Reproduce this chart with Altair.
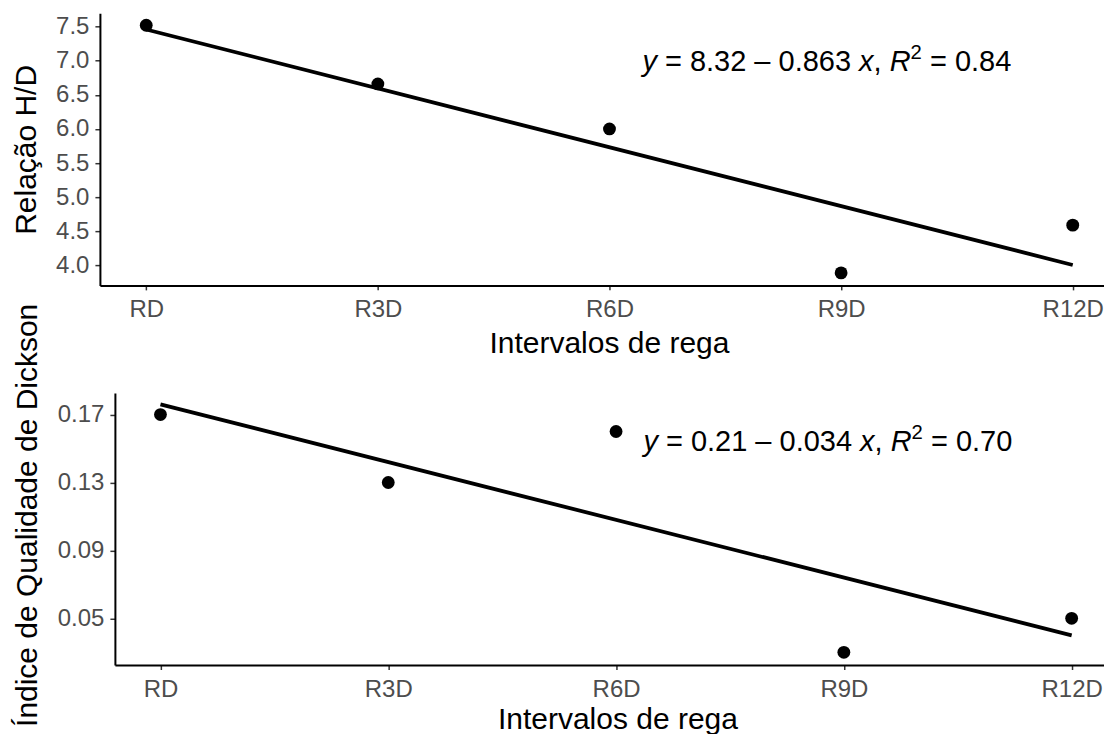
import altair as alt
import pandas as pd

# ---- data ----
categories = ["RD", "R3D", "R6D", "R9D", "R12D"]
hd_values = [7.52, 6.66, 6.00, 3.89, 4.59]
iqd_values = [0.17, 0.13, 0.16, 0.03, 0.05]
hd_ticks = [4.0, 4.5, 5.0, 5.5, 6.0, 6.5, 7.0, 7.5]
iqd_ticks = [0.05, 0.09, 0.13, 0.17]
hd_eq = [("y", "it"), (" = 8.32 – 0.863 ", "n"), ("x", "it"), (", ", "n"),
         ("R", "it"), ("2", "sup"), (" = 0.84", "n")]
iqd_eq = [("y", "it"), (" = 0.21 – 0.034 ", "n"), ("x", "it"), (", ", "n"),
          ("R", "it"), ("2", "sup"), (" = 0.70", "n")]

FONT = "Liberation Sans"
idx = list(range(1, len(categories) + 1))
df_hd = pd.DataFrame({"idx": idx, "cat": categories, "value": hd_values})
df_iqd = pd.DataFrame({"idx": idx, "cat": categories, "value": iqd_values})
label_expr = "[" + ",".join(f"'{c}'" for c in categories) + "][datum.value - 1]"

# Arial / Liberation Sans advance widths (per 1000 em)
W = {" ": 278, "=": 584, ".": 278, "–": 556, ",": 278, "x": 500, "y": 500, "R": 722}
for d in "0123456789":
    W[d] = 556


def tw(s, size):
    return sum(W.get(c, 556) for c in s) * size / 1000.0


def equation(pieces, x0, y0, size):
    layers = []
    off = 0.0
    for txt, style in pieces:
        lead = len(txt) - len(txt.lstrip(" "))
        trail = len(txt) - len(txt.rstrip(" "))
        core = txt.strip(" ")
        off += lead * W[" "] * size / 1000.0
        fs = size * 0.7 if style == "sup" else size
        dy = -size * 0.42 if style == "sup" else 0
        layers.append(
            alt.Chart(alt.Data(values=[{}])).mark_text(
                text=core, align="left", baseline="alphabetic", font=FONT,
                fontSize=fs, dy=dy, color="black",
                fontStyle="italic" if style == "it" else "normal",
            ).encode(x=alt.value(x0 + off), y=alt.value(y0))
        )
        off += tw(core, fs) + trail * W[" "] * size / 1000.0
    return layers


def panel(df, ydomain, yticks, yfmt, xdomain, width, height, ytitle, ytitle_x,
          ytitle_y, xtitle_x, xtitle_y, eq, eq_x, eq_y):
    yaxis = dict(values=yticks, format=yfmt, title=ytitle, titleX=ytitle_x,
                 titleBaseline="alphabetic", labelPadding=6, tickSize=5)
    if ytitle_y is not None:
        yaxis["titleY"] = ytitle_y
    x = alt.X("idx:Q",
              scale=alt.Scale(domain=xdomain, nice=False, zero=False),
              axis=alt.Axis(values=idx, labelExpr=label_expr, title="Intervalos de rega",
                            titleX=xtitle_x, titleY=xtitle_y, titleBaseline="alphabetic",
                            labelPadding=8, tickSize=4.5))
    y = alt.Y("value:Q",
              scale=alt.Scale(domain=ydomain, nice=False, zero=False),
              axis=alt.Axis(**yaxis))
    base = alt.Chart(df)
    pts = base.mark_circle(size=165, color="black", opacity=1).encode(x=x, y=y)
    line = base.transform_regression("idx", "value").mark_line(
        color="black", strokeWidth=3.8).encode(x=x, y=y)
    return alt.layer(pts, line, *equation(eq, eq_x, eq_y, 29)).properties(
        width=width, height=height)


top = panel(df_hd, [3.707, 7.695], hd_ticks, ".1f", [0.8, 5.135], 1005, 272.3,
            "Relação H/D", -64.5, None, 509.5, 67, hd_eq, 543, 57.5)
bottom = panel(df_iqd, [0.0225, 0.1827], iqd_ticks, ".2f", [0.8, 5.142], 990, 272.3,
               "Índice de Qualidade de Dickson", -78, 122, 503, 64, iqd_eq, 529, 58.3)

spacer = alt.Chart(df_hd).mark_point(opacity=0).encode(
    x=alt.X("idx:Q", axis=None), y=alt.Y("value:Q", axis=None)
).properties(width=1, height=272)

chart = alt.vconcat(
    top,
    alt.hconcat(spacer, bottom, spacing=14, bounds="flush"),
    spacing=107, bounds="flush",
).properties(
    padding={"left": 3, "top": 5, "right": 0, "bottom": 0},
    background="white",
).configure_view(strokeWidth=0).configure_axis(
    grid=False, domainColor="black", domainWidth=2, tickColor="#333333",
    tickWidth=1.5, labelFont=FONT, labelFontSize=24, labelColor="#4d4d4d",
    titleFont=FONT, titleFontSize=30, titleColor="black", titleFontWeight="normal",
)

chart.save("out.html", embed_options={"renderer": "svg", "actions": False})
